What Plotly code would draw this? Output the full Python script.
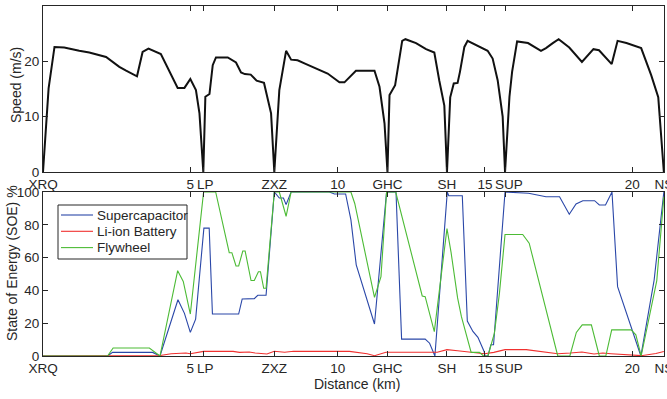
import plotly.graph_objects as go

# ---------------- data ----------------
station_ticks = [0, 5, 5.44, 7.85, 10, 11.69, 13.71, 15, 15.68, 20, 21.07]
station_labels = ["XRQ", "5", "\u00a0LP", "ZXZ", "10", "GHC", "SH", "15", "\u00a0\u00a0SUP", "20", "NS"]

speed_dist = [0, 0.19, 0.39, 0.72, 1.23, 1.57, 2.14, 2.59, 2.82, 3.19, 3.38, 3.58, 4.0,
              4.57, 4.8, 5.0, 5.19, 5.31, 5.44, 5.51, 5.65, 5.76, 5.87, 6.27, 6.55, 6.72,
              6.85, 7.05, 7.25, 7.5, 7.74, 7.85, 8.02, 8.25, 8.42, 8.64, 8.93, 9.32, 9.66,
              10.06, 10.23, 10.62, 11.25, 11.42, 11.59, 11.69, 11.76, 11.95, 12.19, 12.3,
              12.66, 13.0, 13.28, 13.45, 13.62, 13.71, 13.82, 13.94, 14.07, 14.15, 14.3,
              14.41, 14.75, 15.09, 15.26, 15.43, 15.6, 15.68, 15.83, 15.92, 16.09, 16.46,
              16.9, 17.07, 17.3, 17.5, 17.86, 18.29, 18.68, 18.87, 19.3, 19.5, 19.8, 20.3,
              20.64, 20.88, 21.07]
speed_vals = [0, 15.1, 22.6, 22.5, 21.9, 21.6, 20.8, 19.0, 18.3, 17.3, 21.7, 22.3, 21.3,
              15.2, 15.2, 16.8, 14.8, 10.6, 0, 13.6, 14.1, 19.3, 20.7, 20.7, 19.8, 18.0,
              17.7, 17.6, 16.5, 16.1, 10.6, 0, 14.8, 21.9, 20.3, 20.2, 19.5, 18.6, 17.8,
              16.2, 16.2, 18.3, 18.3, 15.4, 8.8, 0, 13.9, 15.7, 23.7, 24.0,
              23.3, 22.2, 21.6, 16.5, 12.0, 0, 13.5, 16.0, 16.1, 18.1, 22.6,
              23.7, 22.8, 21.9, 20.5, 16.6, 10.0, 0, 13.6, 18.1, 23.6, 23.3,
              21.9, 22.4, 23.3, 24.0, 22.5, 19.9, 22.2, 22.0, 19.5, 23.7, 23.3, 22.4,
              17.5, 13.5, 0]

sc_dist = [0, 2.19, 2.36, 3.72, 3.97, 4.58, 4.8, 5.0, 5.18, 5.46, 5.64, 5.75, 6.64, 6.76,
           7.17, 7.29, 7.57, 7.85, 8.02, 8.16, 8.25, 8.42, 9.72, 9.89, 10.27, 10.45, 10.63,
           11.25, 11.66, 11.98, 12.17, 12.97, 13.12, 13.3, 13.72, 13.77, 14.23, 14.4, 14.59,
           14.76, 14.97, 15.0, 15.1, 15.2, 15.29, 15.68, 16.48, 17.07, 17.53, 17.86, 18.09,
           18.32, 18.72, 18.88, 19.09, 19.31, 19.5, 20.29, 20.74, 21.07]
sc_soe = [0, 0, 2.2, 2.2, 0, 34.3, 26, 14.4, 22.5, 78, 78, 25.6, 25.6, 34.8,
          35, 37, 37, 100, 96.3, 96.3, 92.3, 100, 100, 98.8, 98.8, 83, 55.6,
          19.5, 100, 100, 10.3, 10.3, 7.8, 0, 100, 97.7, 97.7, 21.3, 15,
          11.4, 2.8, 0, 0, 6.9, 6.9, 100, 99.2, 97.1, 97.1, 86.4, 92.7,
          94.7, 94.7, 92.1, 92.1, 100, 42.3, 0, 46.3, 100]

bat_dist = [0, 2.2, 3.97, 4.35, 4.85, 5.0, 5.45, 6.45, 6.67, 7.0, 7.2, 7.6, 7.85, 8.2, 8.5,
            10.4, 11.0, 11.25, 11.64, 13.38, 13.71, 14.07, 14.98, 15.3, 15.68, 16.4, 17.47,
            17.9, 18.29, 18.7, 19.0, 19.28, 20.3, 20.8, 21.07]
bat_soe = [0, 0.3, 0.3, 1.4, 1.8, 1.4, 2.8, 2.8, 2.2, 2.4, 1.8, 1.2, 2.9, 2.3, 2.9,
           2.8, 1.4, 0.2, 2.3, 2.3, 3.9, 3.2, 1.4, 2.2, 3.9, 3.9, 1.4,
           1.8, 2.4, 1.2, 1.8, 1.4, 0.2, 1.5, 2.8]

fw_dist = [0, 2.19, 2.38, 3.61, 3.97, 4.57, 4.76, 5.0, 5.45, 5.86, 6.32, 6.41, 6.55, 6.64,
           6.78, 6.86, 7.06, 7.17, 7.31, 7.38, 7.49, 7.57, 7.85, 8.02, 8.25, 8.42, 10.45,
           10.58, 11.25, 11.47, 11.66, 11.97, 12.87, 12.97, 13.28, 13.71, 13.85, 14.07, 14.2,
           14.53, 14.81, 14.95, 15.1, 15.32, 15.49, 15.68, 16.28, 16.5, 17.47, 17.88, 18.1,
           18.3, 18.61, 18.88, 19.1, 19.3, 19.96, 20.12, 20.3, 20.83, 21.07]
fw_soe = [0, 0, 4.9, 4.9, 0, 52, 45.5, 25.6, 100, 100, 63, 63, 54.9, 54.9,
          64, 64, 46, 46, 51.4, 51.4, 41.3, 41.3, 100, 100, 85.2, 100, 100,
          93, 35.8, 48.4, 100, 100, 36.6, 36.2, 14.9, 77.7, 63, 35.4, 24,
          2.2, 2.2, 0, 0, 14, 38.2, 74.1, 74.1, 68.8, 0, 0, 14.4,
          19, 19, 0, 0, 15.9, 15.9, 12.9, 0, 46, 97]

series_names = ["Supercapacitor", "Li-ion Battery", "Flywheel"]
series_colors = ["#2a47a8", "#f0302f", "#4cbb35"]

# ---------------- figure ----------------
AX = "#262626"
FONT = "Liberation Sans, Arial, Helvetica, sans-serif"
W, H = 667, 399
ML, MR, MT, MB = 43, 3, 6, 43
PW, PH = W - ML - MR, H - MT - MB


def px_x(px):
    return (px - ML) / PW


def px_y(py):
    return (H - MB - py) / PH


fig = go.Figure()
fig.add_trace(go.Scatter(x=speed_dist, y=speed_vals, mode="lines",
                         line=dict(color="#111111", width=2), showlegend=False,
                         xaxis="x", yaxis="y"))
for name, xs, ys, col in zip(series_names, [sc_dist, bat_dist, fw_dist],
                             [sc_soe, bat_soe, fw_soe], series_colors):
    fig.add_trace(go.Scatter(x=xs, y=ys, mode="lines", name=name, showlegend=False,
                             line=dict(color=col, width=1.1), xaxis="x2", yaxis="y2"))

xcommon = dict(range=[0, 21.075], tickmode="array", tickvals=station_ticks,
               ticktext=station_labels, ticks="inside", ticklen=5, tickcolor=AX,
               showline=True, linecolor=AX, linewidth=1, mirror="allticks",
               showgrid=False, zeroline=False, tickangle=0, automargin=False,
               ticklabeloverflow="allow",
               tickfont=dict(size=13.5, color=AX, family=FONT))
ycommon = dict(ticks="inside", ticklen=5, tickcolor=AX, showline=True, linecolor=AX,
               linewidth=1, mirror="allticks", showgrid=False, zeroline=False,
               automargin=False, tickfont=dict(size=13.5, color=AX, family=FONT))

# manual legend (box, sample lines, labels)
shapes = [dict(type="rect", xref="paper", yref="paper",
               x0=px_x(58), x1=px_x(187), y0=px_y(259), y1=px_y(205),
               line=dict(color=AX, width=1), fillcolor="white", layer="above")]
annotations = []
for i, (name, col) in enumerate(zip(series_names, series_colors)):
    yy = px_y(215 + i * 16.3)
    shapes.append(dict(type="line", xref="paper", yref="paper", x0=px_x(61), x1=px_x(93),
                       y0=yy, y1=yy, line=dict(color=col, width=1.1), layer="above"))
    annotations.append(dict(text=name, x=px_x(95), y=yy, xref="paper", yref="paper",
                            showarrow=False, xanchor="left", yanchor="middle",
                            font=dict(size=13.5, color=AX, family=FONT)))

annotations += [
    dict(text="Speed (m/s)", x=px_x(16), y=px_y(85), xref="paper", yref="paper",
         textangle=-90, showarrow=False, xanchor="center", yanchor="middle",
         font=dict(size=14, color=AX, family=FONT)),
    dict(text="State of Energy (SOE) %", x=px_x(12), y=px_y(263), xref="paper",
         yref="paper", textangle=-90, showarrow=False, xanchor="center",
         yanchor="middle", font=dict(size=14, color=AX, family=FONT)),
    dict(text="Distance (km)", x=px_x(357), y=px_y(384), xref="paper", yref="paper",
         showarrow=False, xanchor="center", yanchor="middle",
         font=dict(size=14, color=AX, family=FONT)),
]

fig.update_layout(
    width=W, height=H,
    margin=dict(l=ML, r=MR, t=MT, b=MB, autoexpand=False),
    paper_bgcolor="white", plot_bgcolor="white", showlegend=False,
    font=dict(family=FONT, color=AX, size=13.5),
    xaxis=dict(**xcommon, domain=[0, 1], anchor="y"),
    yaxis=dict(**ycommon, domain=[px_y(172), 1], range=[0, 30], tickvals=[0, 10, 20, 30]),
    xaxis2=dict(**xcommon, domain=[0, 1], anchor="y2"),
    yaxis2=dict(**ycommon, domain=[0, px_y(192)], range=[0, 100],
                tickvals=[0, 20, 40, 60, 80, 100]),
    shapes=shapes,
    annotations=annotations,
)

fig.write_html("out.html", config={"displayModeBar": False},
               post_script="document.body.style.margin='0';document.body.style.overflow='hidden';")
